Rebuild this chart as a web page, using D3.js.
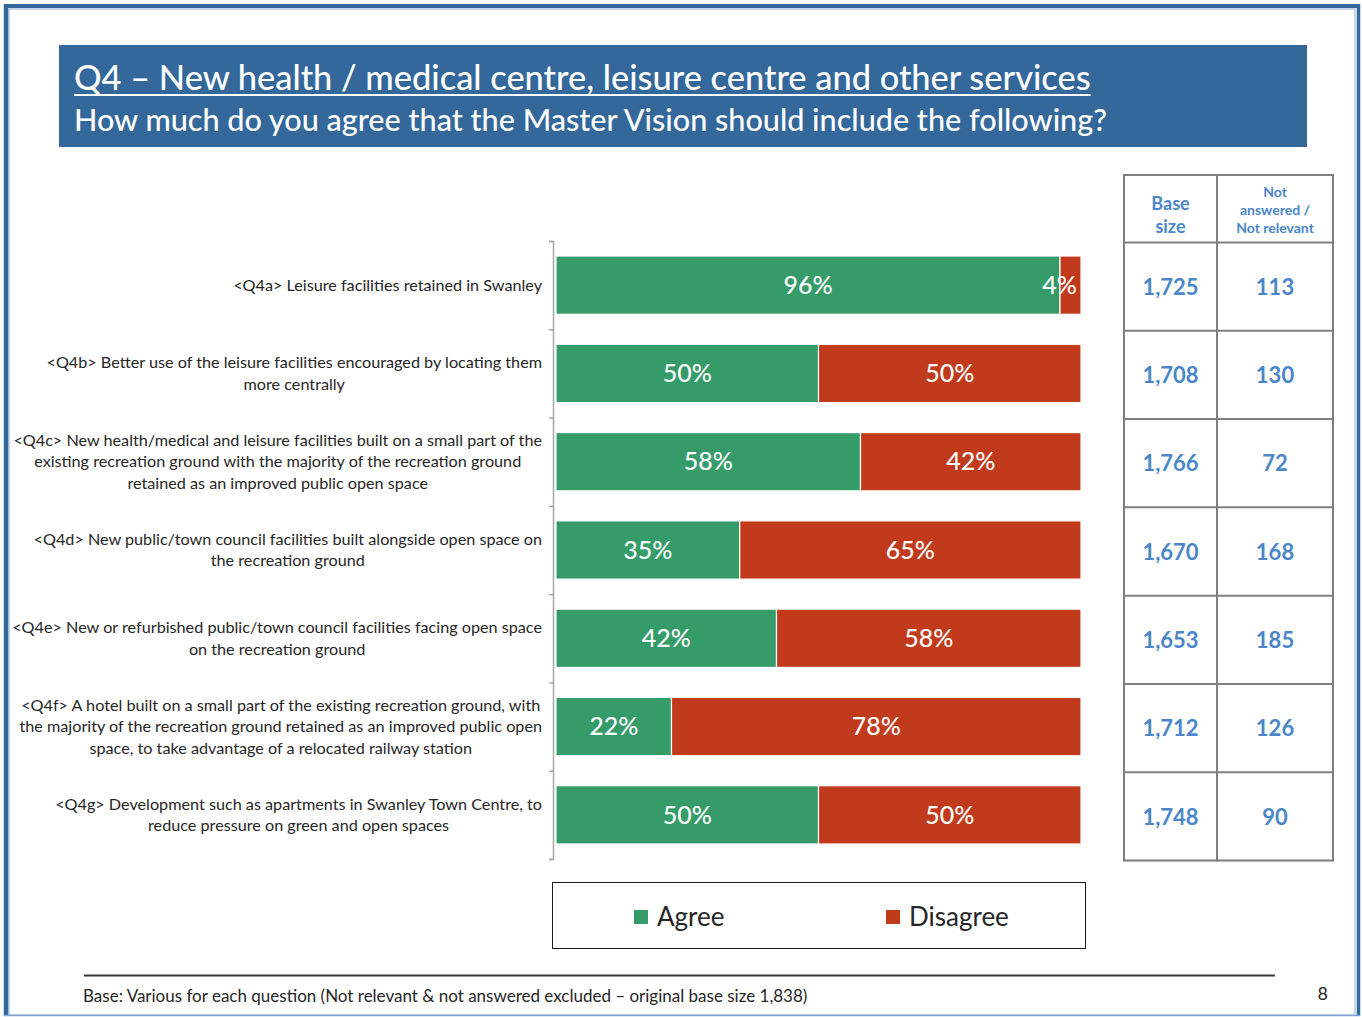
<!DOCTYPE html>
<html>
<head>
<meta charset="utf-8">
<script src="https://cdn.jsdelivr.net/npm/d3@7"></script>
<style>
  html, body { margin: 0; padding: 0; background: #ffffff; }
  svg { display: block; font-family: Lato, "Open Sans", sans-serif; }
</style>
</head>
<body>
<svg id="slide" width="1362" height="1017"></svg>
<script>
// ---- Survey data: Q4 agreement, Agree vs Disagree (% of those answering) ----
const questions = ["Q4a", "Q4b", "Q4c", "Q4d", "Q4e", "Q4f", "Q4g"];
const questionLabels = [
  ["<Q4a> Leisure facilities retained in Swanley"],
  ["<Q4b> Better use of the leisure facilities encouraged by locating them", "more centrally"],
  ["<Q4c> New health/medical and leisure facilities built on a small part of the",
   "existing recreation ground with the majority of the recreation ground",
   "retained as an improved public open space"],
  ["<Q4d> New public/town council facilities built alongside open space on", "the recreation ground"],
  ["<Q4e> New or refurbished public/town council facilities facing open space", "on the recreation ground"],
  ["<Q4f> A hotel built on a small part of the existing recreation ground, with",
   "the majority of the recreation ground retained as an improved public open",
   "space, to take advantage of a relocated railway station"],
  ["<Q4g> Development such as apartments in Swanley Town Centre, to", "reduce pressure on green and open spaces"]
];
const agree    = [96, 50, 58, 35, 42, 22, 50];
const disagree = [4, 50, 42, 65, 58, 78, 50];
const baseSize    = ["1,725", "1,708", "1,766", "1,670", "1,653", "1,712", "1,748"];
const notAnswered = ["113", "130", "72", "168", "185", "126", "90"];
const seriesNames = ["Agree", "Disagree"];
const seriesColors = ["#359b69", "#c23a1c"];

const titleText = "Q4 – New health / medical centre, leisure centre and other services";
const subtitleText = "How much do you agree that the Master Vision should include the following?";
const footnoteText = "Base: Various for each question (Not relevant & not answered excluded – original base size 1,838)";
const pageNumber = "8";

const svg = d3.select("#slide");
const textDark = "#262626";
const frameBlue = "#34679a";

// ---- Slide frame ----
svg.append("rect").attr("x", 9).attr("y", 9).attr("width", 1346).attr("height", 1006)
  .attr("fill", "none").attr("stroke", "#9dbbe0").attr("stroke-width", 1.2);
svg.append("line").attr("x1", 4).attr("x2", 1360).attr("y1", 6).attr("y2", 6)
  .attr("stroke", frameBlue).attr("stroke-width", 4);
svg.append("line").attr("x1", 6).attr("x2", 6).attr("y1", 4).attr("y2", 1016)
  .attr("stroke", frameBlue).attr("stroke-width", 4.5);
svg.append("line").attr("x1", 1358.5).attr("x2", 1358.5).attr("y1", 4).attr("y2", 1016)
  .attr("stroke", frameBlue).attr("stroke-width", 3.5);
svg.append("line").attr("x1", 4).attr("x2", 1360).attr("y1", 1015.5).attr("y2", 1015.5)
  .attr("stroke", "#7fa6d6").attr("stroke-width", 1.5);

// ---- Title banner ----
svg.append("rect").attr("x", 59).attr("y", 45).attr("width", 1248).attr("height", 102)
  .attr("fill", frameBlue);
const title = svg.append("text").attr("x", 74).attr("y", 90)
  .attr("fill", "#ffffff").attr("font-size", 34.4).attr("font-weight", 500)
  .text(titleText);
const tw = title.node().getComputedTextLength();
svg.append("line").attr("x1", 74).attr("x2", 74 + tw).attr("y1", 95).attr("y2", 95)
  .attr("stroke", "#ffffff").attr("stroke-width", 2.2);
svg.append("text").attr("x", 74).attr("y", 131)
  .attr("fill", "#ffffff").attr("font-size", 30.6).attr("font-weight", 500)
  .text(subtitleText);

// ---- Chart scales ----
const plotTop = 241, plotBottom = 859;
const x = d3.scaleLinear().domain([0, 100]).range([556, 1081]);
const y = d3.scaleBand().domain(questions).range([plotTop, plotBottom])
  .paddingInner(0.34).paddingOuter(0.17);
const rowEdge = d3.scaleLinear().domain([0, questions.length]).range([plotTop, plotBottom]);

// Category axis: line with tick marks between categories
const axisG = svg.append("g").attr("transform", "translate(553,0)")
  .call(d3.axisLeft(rowEdge).ticks(questions.length).tickSize(4).tickFormat(""));
axisG.select(".domain").attr("stroke", "#a6a6a6").attr("stroke-width", 1.5);
axisG.selectAll(".tick line").attr("stroke", "#a6a6a6").attr("stroke-width", 1.5);

// Stacked rows
const rows = questions.map((q, i) => ({ q, i, vals: [agree[i], disagree[i]] }));
const stack = d3.stack().keys([0, 1]).value((d, k) => d.vals[k]);
const stacked = stack(rows);

const barG = svg.append("g");
stacked.forEach((layer, k) => {
  barG.selectAll(null).data(layer).enter().append("rect")
    .attr("x", d => x(d[0]))
    .attr("y", d => y(d.data.q))
    .attr("width", d => x(d[1]) - x(d[0]))
    .attr("height", y.bandwidth())
    .attr("fill", seriesColors[k])
    .attr("stroke", "#ffffff").attr("stroke-width", 1.2);
});

// Value labels, kept inside the plot area
stacked.forEach((layer, k) => {
  layer.forEach(d => {
    const t = barG.append("text")
      .attr("y", y(d.data.q) + y.bandwidth() / 2)
      .attr("dy", "0.35em")
      .attr("text-anchor", "middle")
      .attr("fill", "#ffffff").attr("font-size", 25).attr("font-weight", 500)
      .text(d.data.vals[k] + "%");
    const w = t.node().getComputedTextLength();
    let cx = (x(d[0]) + x(d[1])) / 2;
    cx = Math.min(cx, x(100) - w / 2 - 4);
    t.attr("x", cx);
  });
});

// Category labels: centred block, right edge against the axis
const labelRight = 542, lineH = 21.5;
questionLabels.forEach((lines, i) => {
  const g = svg.append("g");
  const cy = y(questions[i]) + y.bandwidth() / 2;
  const texts = lines.map((ln, j) => g.append("text")
    .attr("y", cy + (j - (lines.length - 1) / 2) * lineH)
    .attr("dy", "0.35em")
    .attr("text-anchor", "middle")
    .attr("fill", textDark).attr("font-size", 16.2)
    .text(ln));
  const maxW = d3.max(texts, t => t.node().getComputedTextLength());
  texts.forEach(t => t.attr("x", labelRight - maxW / 2));
});

// ---- Legend ----
const legend = svg.append("g");
legend.append("rect").attr("x", 552.5).attr("y", 882.5).attr("width", 533).attr("height", 66)
  .attr("fill", "none").attr("stroke", "#1a1a1a").attr("stroke-width", 1);
const legendX = [634, 886];
seriesNames.forEach((name, k) => {
  legend.append("rect").attr("x", legendX[k]).attr("y", 910).attr("width", 14).attr("height", 14)
    .attr("fill", seriesColors[k]);
  legend.append("text").attr("x", legendX[k] + 23).attr("y", 926)
    .attr("fill", textDark).attr("font-size", 26).text(name);
});

// ---- Side table: base size and non-response ----
const tblCols = [1124, 1217, 1333];
const tblTop = 175;
const tblColor = "#4a86c8";
const tbl = svg.append("g");
const rowLines = [tblTop].concat(d3.range(questions.length + 1).map(i => rowEdge(i) + 1.5));
tbl.selectAll(null).data(rowLines).enter().append("line")
  .attr("x1", tblCols[0]).attr("x2", tblCols[2])
  .attr("y1", d => d).attr("y2", d => d)
  .attr("stroke", "#7f7f7f").attr("stroke-width", 2);
tbl.selectAll(null).data(tblCols).enter().append("line")
  .attr("x1", d => d).attr("x2", d => d)
  .attr("y1", tblTop - 1).attr("y2", rowLines[rowLines.length - 1] + 1)
  .attr("stroke", "#7f7f7f").attr("stroke-width", 2);

const c1 = (tblCols[0] + tblCols[1]) / 2, c2 = (tblCols[1] + tblCols[2]) / 2;
tbl.append("text").attr("text-anchor", "middle")
  .attr("fill", tblColor).attr("font-weight", 700).attr("font-size", 18)
  .selectAll("tspan").data(["Base", "size"]).enter().append("tspan")
  .attr("x", c1).attr("y", (d, j) => 210 + j * 23).text(d => d);
tbl.append("text").attr("text-anchor", "middle")
  .attr("fill", tblColor).attr("font-weight", 700).attr("font-size", 14)
  .selectAll("tspan").data(["Not", "answered /", "Not relevant"]).enter().append("tspan")
  .attr("x", c2).attr("y", (d, j) => 197 + j * 18).text(d => d);

questions.forEach((q, i) => {
  const cy = y(q) + y.bandwidth() / 2 + 2;
  tbl.append("text").attr("x", c1).attr("y", cy).attr("dy", "0.35em")
    .attr("text-anchor", "middle").attr("fill", tblColor)
    .attr("font-weight", 700).attr("font-size", 22).text(baseSize[i]);
  tbl.append("text").attr("x", c2).attr("y", cy).attr("dy", "0.35em")
    .attr("text-anchor", "middle").attr("fill", tblColor)
    .attr("font-weight", 700).attr("font-size", 22).text(notAnswered[i]);
});

// ---- Footer ----
svg.append("line").attr("x1", 84).attr("x2", 1275).attr("y1", 975.5).attr("y2", 975.5)
  .attr("stroke", "#3a3a3a").attr("stroke-width", 2);
svg.append("text").attr("x", 83).attr("y", 1002)
  .attr("fill", textDark).attr("font-size", 17).text(footnoteText);
svg.append("text").attr("x", 1328).attr("y", 1000).attr("text-anchor", "end")
  .attr("fill", textDark).attr("font-size", 18).text(pageNumber);
</script>
</body>
</html>
